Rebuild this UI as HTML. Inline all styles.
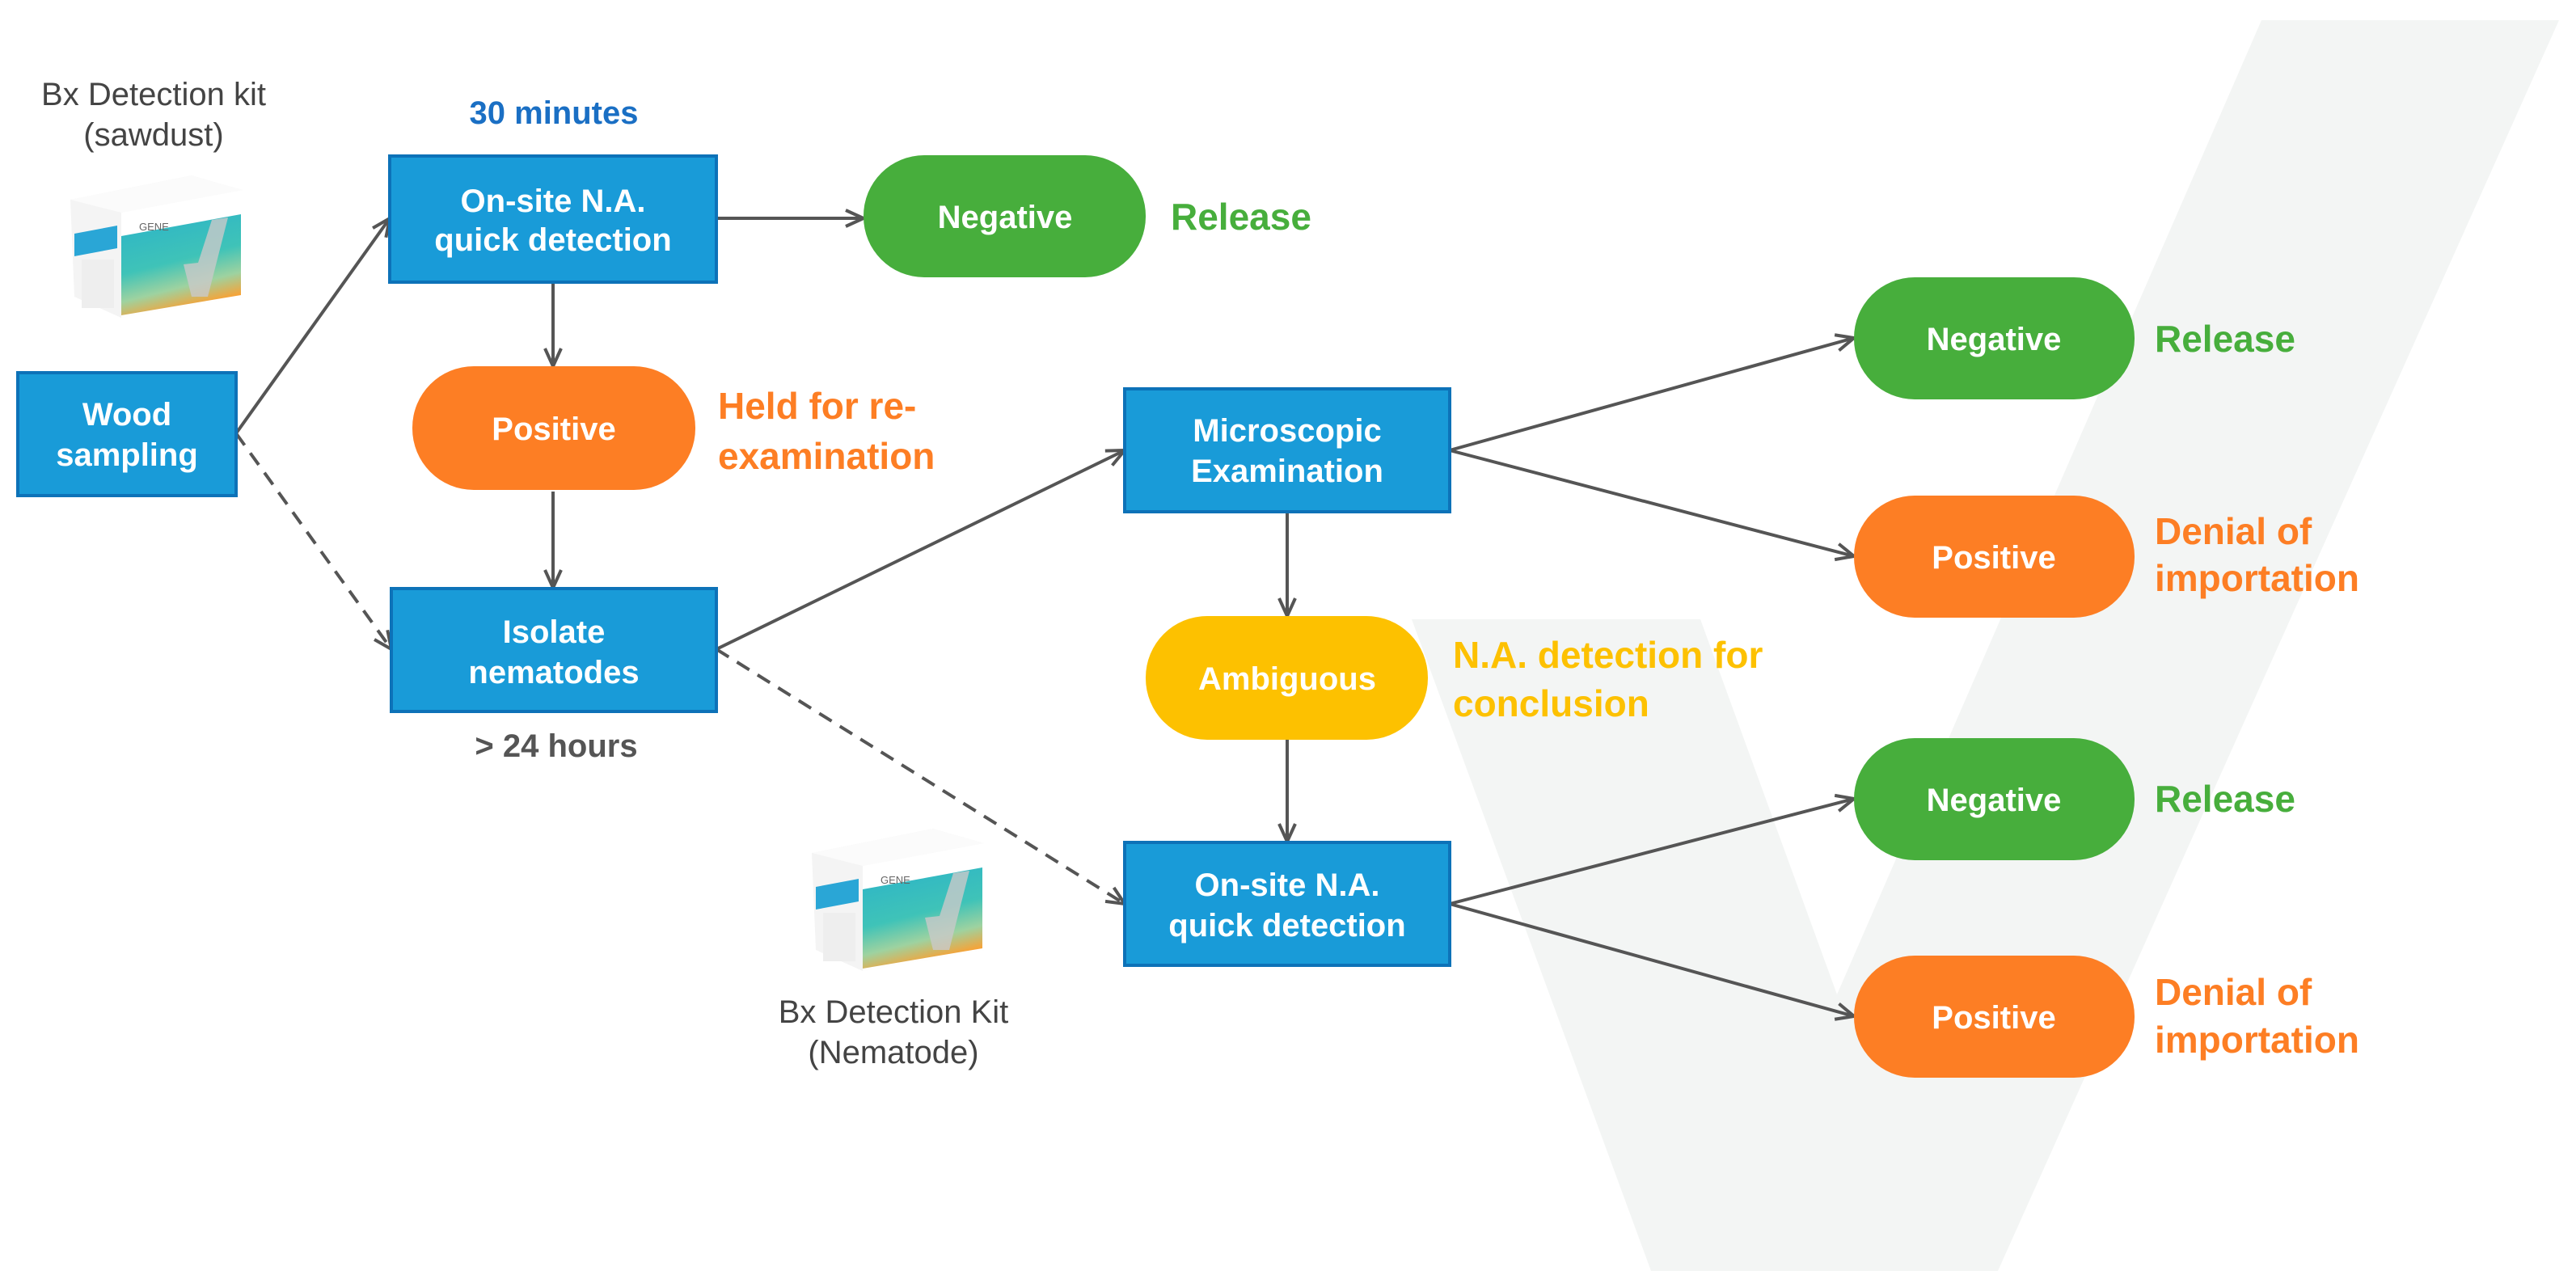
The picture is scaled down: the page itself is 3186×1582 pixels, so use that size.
<!DOCTYPE html>
<html><head><meta charset="utf-8"><style>
html,body{margin:0;padding:0;background:#fff;}
svg{display:block;}
text{font-family:"Liberation Sans",sans-serif;}
</style></head><body>
<svg width="3186" height="1582" viewBox="0 0 3186 1582" xmlns="http://www.w3.org/2000/svg">
<defs>
<marker id="ar" markerWidth="30" markerHeight="30" refX="26" refY="12" orient="auto" markerUnits="userSpaceOnUse">
<path d="M4,2 L26,12 L4,22" fill="none" stroke="#555" stroke-width="4"/>
</marker>
<linearGradient id="kg" x1="0" y1="0" x2="0.3" y2="1">
<stop offset="0" stop-color="#2bb3c9"/><stop offset="0.55" stop-color="#3fc3b8"/><stop offset="0.8" stop-color="#9ed2a0"/><stop offset="1" stop-color="#f6a338"/>
</linearGradient>
<g id="kit">
<polygon points="0,30 150,0 213,18 213,150 63,176 5,150" fill="#f4f4f4"/>
<polygon points="0,30 150,0 213,18 63,46" fill="#fbfbfb"/>
<polygon points="63,46 213,18 213,150 63,176" fill="#fff"/>
<polygon points="63,75 211,48 211,148 63,173" fill="url(#kg)"/>
<polygon points="175,55 195,52 170,150 150,150 140,110 158,108" fill="#c9c9c9" opacity="0.8"/>
<polygon points="5,72 58,62 58,90 5,100" fill="#2aa6d6"/>
<rect x="14" y="104" width="40" height="60" fill="#eee"/>
<text x="85" y="68" font-size="13" fill="#666">GENE</text>
</g>
</defs>

<polygon points="1746,766 2103,766 2272,1230 2797,25 3165,25 2471,1572 2042,1572" fill="#f3f5f4"/>

<!-- connectors -->
<g stroke="#555" stroke-width="4" fill="none">
<line x1="292" y1="536" x2="482" y2="270" marker-end="url(#ar)"/>
<line x1="292" y1="536" x2="484" y2="803" stroke-dasharray="18,12" marker-end="url(#ar)"/>
<line x1="886" y1="270" x2="1068" y2="270" marker-end="url(#ar)"/>
<line x1="684" y1="349" x2="684" y2="453" marker-end="url(#ar)"/>
<line x1="684" y1="608" x2="684" y2="727" marker-end="url(#ar)"/>
<line x1="886" y1="803" x2="1391" y2="557" marker-end="url(#ar)"/>
<line x1="886" y1="803" x2="1391" y2="1118" stroke-dasharray="18,12" marker-end="url(#ar)"/>
<line x1="1793" y1="557" x2="2293" y2="418" marker-end="url(#ar)"/>
<line x1="1793" y1="557" x2="2293" y2="688" marker-end="url(#ar)"/>
<line x1="1592" y1="633" x2="1592" y2="762" marker-end="url(#ar)"/>
<line x1="1592" y1="915" x2="1592" y2="1041" marker-end="url(#ar)"/>
<line x1="1793" y1="1118" x2="2293" y2="988" marker-end="url(#ar)"/>
<line x1="1793" y1="1118" x2="2293" y2="1257" marker-end="url(#ar)"/>
</g>

<use href="#kit" x="87" y="217"/>
<use href="#kit" x="1004" y="1025"/>

<g fill="#199bd8" stroke="#0d72b8" stroke-width="4">
<rect x="482" y="193" width="404" height="156"/>
<rect x="22" y="461" width="270" height="152"/>
<rect x="484" y="728" width="402" height="152"/>
<rect x="1391" y="481" width="402" height="152"/>
<rect x="1391" y="1042" width="402" height="152"/>
</g>
<g>
<rect x="1068" y="192" width="349" height="151" rx="75" fill="#47ae3c"/>
<rect x="510" y="453" width="350" height="153" rx="76" fill="#fd7e24"/>
<rect x="1417" y="762" width="349" height="153" rx="76" fill="#fdc100"/>
<rect x="2293" y="343" width="347" height="151" rx="75" fill="#47ae3c"/>
<rect x="2293" y="613" width="347" height="151" rx="75" fill="#fd7e24"/>
<rect x="2293" y="913" width="347" height="151" rx="75" fill="#47ae3c"/>
<rect x="2293" y="1182" width="347" height="151" rx="75" fill="#fd7e24"/>
</g>

<g font-weight="bold" font-size="40" fill="#fff" text-anchor="middle">
<text x="684" y="262">On-site N.A.</text>
<text x="684" y="310">quick detection</text>
<text x="157" y="526">Wood</text>
<text x="157" y="576">sampling</text>
<text x="685" y="795">Isolate</text>
<text x="685" y="845">nematodes</text>
<text x="1592" y="546">Microscopic</text>
<text x="1592" y="596">Examination</text>
<text x="1592" y="1108">On-site N.A.</text>
<text x="1592" y="1158">quick detection</text>
<text x="1243" y="282">Negative</text>
<text x="685" y="544">Positive</text>
<text x="1592" y="853">Ambiguous</text>
<text x="2466" y="433">Negative</text>
<text x="2466" y="703">Positive</text>
<text x="2466" y="1003">Negative</text>
<text x="2466" y="1272">Positive</text>
</g>

<g font-weight="bold" font-size="46">
<text x="1448" y="284" fill="#47ae3c">Release</text>
<text x="2665" y="435" fill="#47ae3c">Release</text>
<text x="2665" y="1004" fill="#47ae3c">Release</text>
<text x="888" y="518" fill="#fd7e24">Held for re-</text>
<text x="888" y="580" fill="#fd7e24">examination</text>
<text x="2665" y="673" fill="#fd7e24">Denial of</text>
<text x="2665" y="731" fill="#fd7e24">importation</text>
<text x="2665" y="1243" fill="#fd7e24">Denial of</text>
<text x="2665" y="1302" fill="#fd7e24">importation</text>
<text x="1797" y="826" fill="#fdc100">N.A. detection for</text>
<text x="1797" y="886" fill="#fdc100">conclusion</text>
</g>
<text x="685" y="153" font-weight="bold" font-size="40" fill="#1a6fc4" text-anchor="middle">30 minutes</text>
<text x="688" y="936" font-weight="bold" font-size="40" fill="#555" text-anchor="middle">&gt; 24 hours</text>
<g font-size="40" fill="#444" text-anchor="middle">
<text x="190" y="130">Bx Detection kit</text>
<text x="190" y="180">(sawdust)</text>
<text x="1105" y="1265">Bx Detection Kit</text>
<text x="1105" y="1315">(Nematode)</text>
</g>
</svg>
</body></html>
